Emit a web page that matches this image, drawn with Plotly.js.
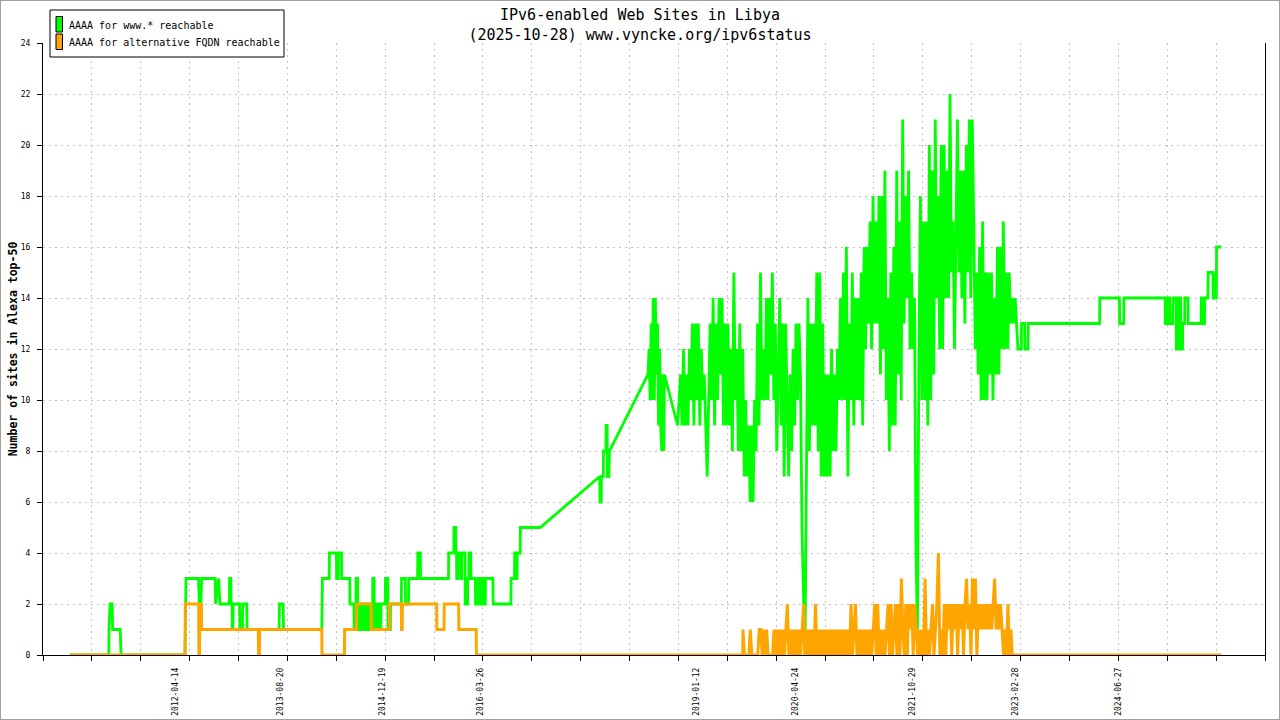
<!DOCTYPE html>
<html>
<head>
<meta charset="utf-8">
<script src="https://cdn.plot.ly/plotly-3.0.1.min.js"></script>
<style>
  body { margin: 0; background: #fff; }
  #chart { width: 1278px; height: 718px; border: 1px solid #a0a0a0; }
</style>
</head>
<body>
<div id="chart"></div>
<script>
// IPv6-enabled web sites in Libya (AAAA records, Alexa top-50)

const FONT = "DejaVu Sans Mono";

const seriesNames = ["AAAA for www.* reachable", "AAAA for alternative FQDN reachable"];
const seriesColors = ["#00ff00", "#ffa500"];

// x-axis labels (dates printed under the axis)
const labelDates = ["2012-04-14", "2013-08-20", "2014-12-19", "2016-03-26", "2019-01-12",
  "2020-04-24", "2021-10-29", "2023-02-28", "2024-06-27"];

// --- www.* : sparse part up to 2018 ---
const greenHeadDates = [
  "2010-12-01", "2011-06-03", "2011-06-04", "2011-06-09", "2011-06-19", "2011-06-21", "2011-07-27", "2011-07-31",
  "2012-05-28", "2012-05-29", "2012-06-02", "2012-07-31", "2012-08-03", "2012-08-08", "2012-08-15",
  "2012-10-18", "2012-10-20", "2012-11-03", "2012-11-10", "2012-12-24", "2012-12-25", "2012-12-31",
  "2013-01-01", "2013-01-06", "2013-01-07", "2013-01-10", "2013-01-11", "2013-02-10", "2013-02-12",
  "2013-02-24", "2013-02-25", "2013-03-16", "2013-03-18", "2013-08-16", "2013-08-18", "2013-09-04", "2013-09-06",
  "2014-03-06", "2014-03-09", "2014-04-10", "2014-04-11", "2014-05-14", "2014-05-15", "2014-05-23", "2014-05-24",
  "2014-06-07", "2014-06-08", "2014-07-16", "2014-07-17", "2014-08-05", "2014-08-06", "2014-08-14", "2014-08-15",
  "2014-08-22", "2014-08-23", "2014-09-01", "2014-09-02", "2014-09-12", "2014-09-13", "2014-09-22", "2014-09-23",
  "2014-10-01", "2014-10-02", "2014-10-12", "2014-10-13", "2014-10-20", "2014-10-21", "2014-11-01", "2014-11-02",
  "2014-11-08", "2014-11-09", "2014-11-20", "2014-11-21", "2014-11-28", "2014-11-29", "2014-12-10", "2014-12-11",
  "2014-12-31", "2015-01-01", "2015-01-12", "2015-01-13", "2015-01-24", "2015-01-25", "2015-03-17", "2015-03-18",
  "2015-04-05", "2015-04-06", "2015-04-20", "2015-04-21", "2015-06-02", "2015-06-03", "2015-06-15", "2015-06-16",
  "2015-10-26", "2015-10-27", "2015-11-20", "2015-11-21", "2015-11-29", "2015-11-30", "2015-12-03", "2015-12-04",
  "2015-12-08", "2015-12-09", "2015-12-22", "2015-12-23", "2015-12-27", "2015-12-28", "2016-01-12", "2016-01-13",
  "2016-01-24", "2016-01-25", "2016-01-30", "2016-01-31", "2016-02-08", "2016-02-09", "2016-03-01", "2016-03-02",
  "2016-03-14", "2016-03-15", "2016-03-25", "2016-03-26", "2016-04-01", "2016-04-02", "2016-04-10", "2016-04-11",
  "2016-04-17", "2016-04-18", "2016-05-23", "2016-05-24", "2016-08-16", "2016-08-17", "2016-09-02", "2016-09-03",
  "2016-09-08", "2016-09-09", "2016-09-14", "2016-09-15", "2016-09-29", "2016-09-30", "2017-01-02",
  "2017-10-10", "2017-10-11", "2017-10-17", "2017-10-18", "2017-10-27", "2017-10-28", "2017-11-08", "2017-11-09",
  "2017-11-14", "2017-11-15", "2017-11-22", "2017-11-25",
  "2018-05-26", "2018-05-31", "2018-06-05", "2018-06-10", "2018-06-15", "2018-06-20", "2018-06-25", "2018-06-30",
  "2018-07-05", "2018-07-10", "2018-07-15", "2018-07-20", "2018-07-25", "2018-07-30", "2018-08-04", "2018-08-09",
  "2018-08-12"
];
const greenHeadVals = [
  0, 0, 1, 2, 2, 1, 1, 0,
  0, 1, 3, 3, 2, 1, 3,
  3, 2, 3, 2, 2, 3, 3,
  2, 2, 1, 1, 2, 2, 1,
  1, 2, 2, 1, 1, 2, 2, 1,
  1, 3, 3, 4, 4, 3, 3, 4,
  4, 3, 3, 2, 2, 1, 1, 3,
  3, 1, 1, 2, 2, 1, 1, 2,
  2, 1, 1, 2, 2, 1, 1, 3,
  3, 1, 1, 2, 2, 1, 1, 2,
  2, 3, 3, 1, 1, 2, 2, 3,
  3, 2, 2, 3, 3, 4, 4, 3,
  3, 4, 4, 5, 5, 4, 4, 3,
  3, 4, 4, 3, 3, 4, 4, 2,
  2, 3, 3, 4, 4, 3, 3, 2,
  2, 3, 3, 2, 2, 3, 3, 2,
  2, 3, 3, 2, 2, 3, 3, 4,
  4, 3, 3, 4, 4, 5, 5,
  7, 6, 6, 7, 7, 8, 8, 9,
  9, 7, 7, 8,
  11, 12, 10, 13, 10, 14, 10, 14,
  11, 13, 9, 12, 9, 8, 11, 8,
  11
];

// --- www.* : weekly readings 2018-10-13 .. 2023-03 ---
const greenDenseStart = "2018-10-13";
const greenDense = [
  9, 10, 11, 9, 12, 9, 11, 9, 12, 10,
  13, 9, 13, 10, 13, 9, 12, 10, 11, 9,
  7, 10, 13, 10, 14, 9, 13, 10, 14, 11,
  14, 9, 13, 9, 13, 9, 12, 8, 15, 10,
  12, 8, 13, 8, 12, 7, 10, 7, 9, 6,
  9, 6, 10, 8, 13, 9, 15, 10, 12, 10,
  14, 10, 14, 11, 15, 10, 13, 8, 12, 14,
  9, 13, 7, 13, 10, 7, 11, 8, 12, 9,
  13, 10, 13, 11, 5, 2, 0, 7, 14, 8,
  13, 9, 13, 9, 15, 8, 15, 7, 13, 7,
  11, 7, 11, 7, 12, 8, 11, 8, 12, 10,
  14, 10, 15, 10, 16, 7, 13, 10, 15, 9,
  14, 10, 14, 10, 15, 9, 16, 12, 16, 13,
  17, 12, 18, 13, 17, 13, 18, 11, 18, 12,
  19, 10, 14, 8, 15, 9, 16, 9, 19, 11,
  17, 10, 21, 13, 18, 14, 19, 12, 15, 12,
  14, 4, 1, 12, 18, 10, 17, 10, 17, 9,
  20, 10, 19, 11, 21, 14, 18, 12, 20, 12,
  20, 14, 19, 14, 22, 15, 17, 12, 16, 21,
  15, 19, 14, 19, 13, 20, 15, 21, 14, 21,
  17, 12, 15, 11, 16, 10, 17, 10, 15, 10,
  15, 11, 15, 10, 14, 11, 16, 11, 16, 12,
  17, 12, 15, 12, 15, 13, 14, 13, 14, 13
];

// --- www.* : sparse part 2023 .. today ---
const greenTailDates = [
  "2023-03-10", "2023-03-26", "2023-03-27", "2023-04-11", "2023-04-12", "2023-04-27", "2023-04-28",
  "2024-03-30", "2024-03-31", "2024-07-02", "2024-07-03", "2024-07-22", "2024-07-23",
  "2025-02-03", "2025-02-04", "2025-02-14", "2025-02-15", "2025-02-24", "2025-02-25", "2025-03-11", "2025-03-12",
  "2025-03-27", "2025-03-28", "2025-04-07", "2025-04-08", "2025-04-17", "2025-04-18", "2025-04-26", "2025-04-27",
  "2025-05-06", "2025-05-07", "2025-05-22", "2025-05-23", "2025-07-23", "2025-07-24", "2025-07-30", "2025-07-31",
  "2025-08-08", "2025-08-09", "2025-08-24", "2025-08-25", "2025-09-17", "2025-09-18", "2025-09-27", "2025-09-28",
  "2025-10-01", "2025-10-02", "2025-10-03", "2025-10-04", "2025-10-27"
];
const greenTailVals = [
  12, 12, 13, 13, 12, 12, 13,
  13, 14, 14, 13, 13, 14,
  14, 13, 13, 14, 14, 13, 13, 14,
  14, 12, 12, 14, 14, 12, 12, 13,
  13, 14, 14, 13, 13, 14, 14, 13,
  13, 14, 14, 15, 15, 14, 14, 15,
  15, 14, 14, 16, 16
];

// --- alternative FQDN ---
const orangeHeadDates = [
  "2010-12-01", "2012-05-29", "2012-05-30", "2012-08-01", "2012-08-02", "2012-08-05", "2012-08-06", "2012-08-14",
  "2012-08-15", "2013-05-10", "2013-05-11", "2013-05-15", "2013-05-16", "2014-03-06", "2014-03-07", "2014-06-21",
  "2014-06-22", "2014-08-17", "2014-08-18", "2014-10-25", "2014-10-26", "2015-01-19", "2015-01-20", "2015-03-17",
  "2015-03-18", "2015-03-21", "2015-03-22", "2015-08-31", "2015-09-01", "2015-10-05", "2015-10-06", "2015-12-13",
  "2015-12-14", "2016-03-05", "2016-03-06", "2019-08-17"
];
const orangeHeadVals = [
  0, 0, 2, 2, 0, 0, 2, 2,
  1, 1, 0, 0, 1, 1, 0, 0,
  1, 1, 2, 2, 1, 1, 2, 2,
  1, 1, 2, 2, 1, 1, 2, 2,
  1, 1, 0, 0
];

const orangeDenseStart = "2019-08-18";
const orangeDense = [
  1, 0, 0, 0, 0, 1, 0, 0, 0, 0,
  0, 1, 1, 0, 1, 0, 1, 0, 0, 0,
  0, 1, 0, 1, 0, 1, 0, 1, 0, 1,
  2, 0, 1, 0, 1, 0, 1, 0, 1, 0,
  1, 2, 0, 1, 0, 1, 0, 1, 0, 2,
  0, 1, 0, 1, 0, 1, 0, 1, 0, 1,
  0, 1, 0, 1, 0, 1, 0, 1, 0, 1,
  0, 1, 0, 2, 0, 1, 2, 0, 1, 0,
  1, 0, 1, 0, 1, 0, 1, 0, 1, 2,
  0, 2, 0, 1, 0, 1, 0, 1, 2, 0,
  2, 0, 1, 2, 0, 2, 0, 3, 1, 0,
  2, 0, 2, 1, 2, 0, 2, 1, 0, 1,
  0, 1, 0, 3, 0, 1, 0, 1, 2, 0,
  1, 2, 4, 0, 1, 0, 2, 0, 2, 1,
  2, 0, 2, 1, 2, 0, 2, 1, 2, 0,
  2, 3, 1, 2, 0, 3, 1, 3, 0, 2,
  1, 2, 1, 2, 1, 2, 1, 2, 1, 2,
  3, 1, 2, 1, 2, 1, 0, 1, 0, 2,
  0, 1
];

const orangeTailDates = ["2023-02-11", "2025-10-27"];
const orangeTailVals = [0, 0];

// weekly sampling grid for the dense stretches
function weekly(start, vals) {
  var t0 = Date.parse(start + "T00:00:00Z");
  return vals.map(function (_, i) {
    return new Date(t0 + i * 7 * 864e5).toISOString().slice(0, 10);
  });
}

var greenX = greenHeadDates.concat(weekly(greenDenseStart, greenDense), greenTailDates);
var greenY = greenHeadVals.concat(greenDense, greenTailVals);
var orangeX = orangeHeadDates.concat(weekly(orangeDenseStart, orangeDense), orangeTailDates);
var orangeY = orangeHeadVals.concat(orangeDense, orangeTailVals);

var xRange = ["2010-07-27", "2026-05-21"];
var tickStep = 231.08 * 864e5; // 25 ticks across the range

var traces = [
  {
    x: greenX, y: greenY, type: "scatter", mode: "lines",
    line: { color: seriesColors[0], width: 2.8 },
    name: seriesNames[0], showlegend: false, hoverinfo: "skip"
  },
  {
    x: orangeX, y: orangeY, type: "scatter", mode: "lines",
    line: { color: seriesColors[1], width: 3 },
    name: seriesNames[1], showlegend: false, hoverinfo: "skip"
  },
  { x: [], y: [], xaxis: "x2", type: "scatter", mode: "lines", showlegend: false, hoverinfo: "skip" }
];

// screen px -> paper coords (plot area is 43..1265 x 43..655)
function px(x) { return (x - 43) / 1222; }
function py(y) { return (655 - y) / 612; }

var shapes = [{
  type: "rect", xref: "paper", yref: "paper",
  x0: px(50), x1: px(284), y0: py(57), y1: py(10),
  fillcolor: "#ffffff", line: { color: "#000", width: 1 }
}];
var annotations = [];
seriesNames.forEach(function (name, i) {
  var top = 16.5 + i * 17.5;
  shapes.push({
    type: "rect", xref: "paper", yref: "paper",
    x0: px(56), x1: px(62.5), y0: py(top + 15.5), y1: py(top),
    fillcolor: seriesColors[i], line: { color: "#000", width: 1 }
  });
  annotations.push({
    xref: "paper", yref: "paper", x: px(67), y: py(top + 8.5),
    xanchor: "left", yanchor: "middle", showarrow: false,
    text: name, font: { family: FONT, size: 10, color: "#000" }
  });
});

var layout = {
  width: 1278, height: 718,
  margin: { l: 42, r: 14, t: 42, b: 64 },
  paper_bgcolor: "#ffffff", plot_bgcolor: "#ffffff",
  font: { family: FONT, color: "#000" },
  showlegend: false,
  title: {
    text: "IPv6-enabled Web Sites in Libya<br>(2025-10-28) www.vyncke.org/ipv6status",
    font: { family: FONT, size: 15, color: "#000" },
    x: 0.5, xanchor: "center", xref: "container",
    y: 1 - 19 / 718, yanchor: "top", yref: "container"
  },
  xaxis: {
    type: "date", range: xRange,
    tickmode: "linear", tick0: xRange[0], dtick: tickStep,
    showticklabels: false, ticks: "outside", ticklen: 5, tickcolor: "#000",
    showgrid: true, gridcolor: "#c0c0c0", griddash: "2px,4px", gridwidth: 1,
    showline: true, linecolor: "#000", linewidth: 1, zeroline: false
  },
  xaxis2: {
    type: "date", range: xRange, overlaying: "x", anchor: "y", side: "bottom",
    tickmode: "array", tickvals: labelDates, ticktext: labelDates,
    tickangle: -90, ticks: "", ticklabelstandoff: 10,
    tickfont: { family: FONT, size: 8, color: "#000" },
    showgrid: false, showline: false, zeroline: false
  },
  yaxis: {
    range: [0, 24], tickmode: "linear", tick0: 0, dtick: 2,
    ticks: "outside", ticklen: 5, tickcolor: "#000", ticklabelstandoff: 5,
    tickfont: { family: FONT, size: 8, color: "#000" },
    showgrid: true, gridcolor: "#c0c0c0", griddash: "2px,4px", gridwidth: 1,
    showline: true, mirror: true, linecolor: "#000", linewidth: 1, zeroline: false,
    title: {
      text: "Number of sites in Alexa top-50",
      font: { family: FONT, size: 11.5, color: "#000", weight: "bold" },
      standoff: 0
    }
  },
  shapes: shapes,
  annotations: annotations
};

Plotly.newPlot("chart", traces, layout, { displayModeBar: false, staticPlot: true });
</script>
</body>
</html>
